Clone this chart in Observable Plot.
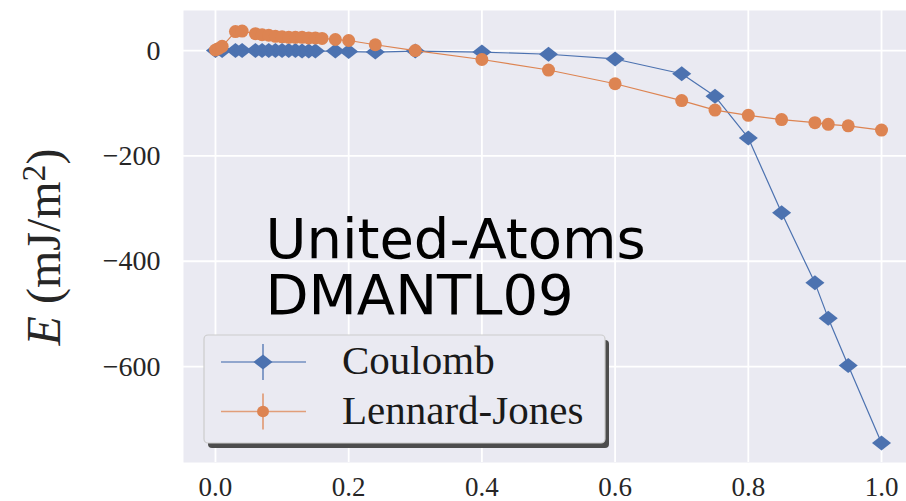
<!DOCTYPE html>
<html><head><meta charset="utf-8">
<script src="https://cdn.jsdelivr.net/npm/d3@7"></script>
<script src="https://cdn.jsdelivr.net/npm/@observablehq/plot@0.6"></script>
<style>body{margin:0;background:#fff}</style>
</head><body><div id="chart"></div>
<script>
const coulombX = [0, 0.01, 0.03, 0.04, 0.06, 0.07, 0.08, 0.09, 0.1, 0.11, 0.12, 0.13, 0.14, 0.15, 0.18, 0.2, 0.24, 0.3, 0.4, 0.5, 0.6, 0.7, 0.75, 0.8, 0.85, 0.9, 0.92, 0.95, 1.0];
const coulombE = [0, 0, 0, 0, 0, 0, 0, 0, 0, 0, 0, -1, -1, -1, -1, -2, -3, -1, -3, -7, -16, -44, -87, -166, -308, -441, -508, -598, -745];
const ljX = [0, 0.005, 0.01, 0.03, 0.04, 0.06, 0.07, 0.08, 0.09, 0.1, 0.11, 0.12, 0.13, 0.14, 0.15, 0.16, 0.18, 0.2, 0.24, 0.3, 0.4, 0.5, 0.6, 0.7, 0.75, 0.8, 0.85, 0.9, 0.92, 0.95, 1.0];
const ljE = [1, 4, 8, 36, 37, 32, 30, 29, 27, 26, 25, 25, 25, 24, 24, 23, 21, 19, 11, 0, -17, -37, -63, -95, -113, -123, -131, -137, -140, -143, -151];
const seriesNames = ["Coulomb", "Lennard-Jones"];
const seriesColors = ["#4c72b0", "#dd8452"];
const xTicks = [0, 0.2, 0.4, 0.6, 0.8, 1.0];
const yTicks = [0, -200, -400, -600];
const annotation = "United-Atoms\nDMANTL09";

const coulomb = coulombX.map((x, i) => ({x, y: coulombE[i]}));
const lj = ljX.map((x, i) => ({x, y: ljE[i]}));

const wideDiamond = {
  draw(ctx, size) {
    const r = Math.sqrt(size / Math.PI);
    const w = r * 1.27;
    ctx.moveTo(0, -r); ctx.lineTo(w, 0); ctx.lineTo(0, r); ctx.lineTo(-w, 0); ctx.closePath();
  }
};
const fmtY = d => d < 0 ? "\u2212" + Math.abs(d) : String(d);
const serif = "'Liberation Serif', 'DejaVu Serif', serif";

const svg = Plot.plot({
  width: 906, height: 501,
  marginLeft: 183, marginRight: 0, marginTop: 10, marginBottom: 39,
  style: {background: "white", fontFamily: serif},
  x: {domain: [-0.048, 1.0375]},
  y: {domain: [-782, 76]},
  marks: [
    Plot.frame({fill: "#eaeaf2", stroke: null}),
    Plot.gridX(xTicks, {stroke: "white", strokeOpacity: 1, strokeWidth: 1.8}),
    Plot.gridY(yTicks, {stroke: "white", strokeOpacity: 1, strokeWidth: 1.8}),
    Plot.axisX(xTicks, {tickSize: 0, tickPadding: 14, fontSize: 27, fontFamily: serif, fill: "#262626", tickFormat: d => d.toFixed(1), label: null}),
    Plot.axisY(yTicks, {tickSize: 0, tickPadding: 23, fontSize: 28, fontFamily: serif, fill: "#262626", tickFormat: fmtY, label: null}),
    Plot.line(coulomb, {x: "x", y: "y", stroke: seriesColors[0], strokeWidth: 1.2}),
    Plot.dot(coulomb, {x: "x", y: "y", fill: seriesColors[0], stroke: null, symbol: wideDiamond, r: 7.5}),
    Plot.line(lj, {x: "x", y: "y", stroke: seriesColors[1], strokeWidth: 1.2}),
    Plot.dot(lj, {x: "x", y: "y", fill: seriesColors[1], stroke: null, r: 6.5}),
    Plot.text([annotation], {x: 0.075, y: -319, text: d => d, textAnchor: "start", lineAnchor: "top", fontSize: 56, fontFamily: "DejaVu Sans", lineHeight: 1.0, fill: "#000"})
  ]
});

const s = d3.select(svg);
// y label
const yl = s.append("text")
  .attr("transform", "translate(60,247) rotate(-90)")
  .attr("text-anchor", "middle")
  .attr("font-family", serif)
  .attr("font-size", 48)
  .attr("fill", "#262626");
yl.append("tspan").attr("font-style", "italic").text("E");
yl.append("tspan").text(" (mJ/m");
yl.append("tspan").attr("font-size", "70%").attr("dy", "-0.45em").text("2");
yl.append("tspan").attr("dy", "0.32em").text(")");

// legend
const lg = s.append("g");
lg.append("rect").attr("x", 208).attr("y", 340).attr("width", 401).attr("height", 108).attr("rx", 4).attr("fill", "#4d4d4d");
lg.append("rect").attr("x", 204).attr("y", 335).attr("width", 401).attr("height", 108).attr("rx", 4).attr("fill", "#eaeaf2").attr("stroke", "#cccccc").attr("stroke-width", 1.2);
seriesNames.forEach((name, i) => {
  const cy = 362 + i * 49.5;
  const c = seriesColors[i];
  lg.append("line").attr("x1", 221).attr("x2", 306).attr("y1", cy).attr("y2", cy).attr("stroke", c).attr("stroke-width", 1.3).attr("stroke-opacity", 0.75);
  lg.append("line").attr("x1", 263).attr("x2", 263).attr("y1", cy - 18).attr("y2", cy + 18).attr("stroke", c).attr("stroke-width", 1.3);
  if (i === 0) {
    lg.append("path").attr("d", "M263," + (cy - 7.5) + "L272.5," + cy + "L263," + (cy + 7.5) + "L253.5," + cy + "Z").attr("fill", c);
  } else {
    lg.append("ellipse").attr("cx", 263).attr("cy", cy).attr("rx", 6).attr("ry", 5.8).attr("fill", c);
  }
  lg.append("text").attr("x", 342).attr("y", cy + 12).attr("text-anchor", "start").attr("font-family", serif).attr("font-size", 41).attr("fill", "#1a1a1a").text(name);
});

document.getElementById("chart").appendChild(svg);
</script>
</body></html>
